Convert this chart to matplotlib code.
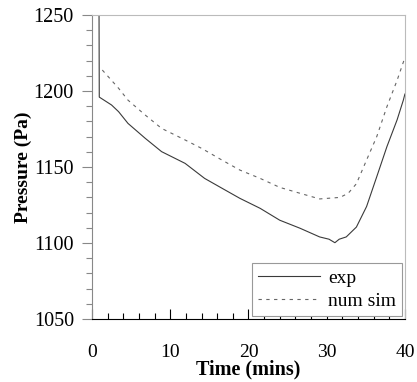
import numpy as np
import matplotlib
matplotlib.use("Agg")
from matplotlib import pyplot as plt
from matplotlib.ticker import MultipleLocator

# values
t_exp = [0.90, 0.93, 2.5, 3.4, 4.6, 6.8, 8.9, 11.9, 14.4, 16.8, 18.9, 21.5, 24.0,
         26.6, 29.1, 30.3, 31.05, 31.6, 32.5, 33.8, 35.1, 36.4, 37.7, 39.0, 39.8, 40.0]
p_exp = [1252, 1196, 1190.8, 1186.4, 1178.7, 1168.9, 1160.1, 1152.4, 1142.5, 1135.5, 1129.4,
         1122.8, 1115.0, 1109.7, 1104.0, 1102.5, 1100.2, 1102.5, 1104.0, 1110.5, 1124.0,
         1143.6, 1163.4, 1181.0, 1194.0, 1198.0]

t_sim = [1.32, 3.4, 4.6, 6.8, 8.9, 11.9, 14.0, 16.6, 18.9, 21.5, 24.0, 26.6, 29.1,
         31.7, 32.75, 33.8, 35.1, 36.4, 37.7, 39.0, 40.0]
p_sim = [1213.8, 1201.8, 1194.0, 1184.2, 1175.4, 1167.8, 1162.3, 1154.6, 1148.0, 1142.5,
         1136.6, 1132.7, 1129.0, 1130.0, 1132.7, 1139.0, 1154.6, 1170.0, 1189.7, 1207.0, 1222.0]

plt.rcParams['font.family'] = ['Liberation Serif', 'DejaVu Serif']

fig = plt.figure(figsize=(4.17, 3.82), dpi=100)
ax = fig.add_axes([0.2206, 0.1649, 0.971 - 0.2206, 0.9607 - 0.1649])

ax.plot(t_exp, p_exp, color='#3a3a3a', lw=0.8, label='exp')
ax.plot(t_sim, p_sim, color='#666666', lw=0.8, ls=(0, (3, 4)), label='num sim')

ax.set_xlim(0, 40)
ax.set_ylim(1050, 1250)
ax.xaxis.set_major_locator(MultipleLocator(10))
ax.xaxis.set_minor_locator(MultipleLocator(2))
ax.yaxis.set_major_locator(MultipleLocator(50))
ax.yaxis.set_minor_locator(MultipleLocator(10))

ax.tick_params(axis='x', which='major', direction='in', length=7, width=0.8, pad=18, labelsize=14)
ax.tick_params(axis='x', which='minor', direction='in', length=4, width=0.8)
ax.tick_params(axis='y', which='major', direction='out', length=7, width=0.8, pad=6,
               labelsize=14.5, color='#888888')
ax.tick_params(axis='y', which='minor', direction='out', length=4, width=0.8, color='#888888')

ax.spines['bottom'].set_color('black')
ax.spines['left'].set_color('#888888')
ax.spines['top'].set_color('#bbbbbb')
ax.spines['right'].set_color('#bbbbbb')
for s in ax.spines.values():
    s.set_linewidth(0.8)

ax.set_xlabel('Time (mins)', fontsize=14.5, fontweight='bold', labelpad=-1)
ax.set_ylabel('Pressure (Pa)', fontsize=14, fontweight='bold', labelpad=1)

leg = ax.legend(loc='lower right', fontsize=14, fancybox=False, framealpha=1,
                edgecolor='#999999', borderaxespad=0.15, handlelength=3.2,
                handletextpad=0.4, labelspacing=0.3, borderpad=0.3)
leg.get_frame().set_linewidth(0.8)

fig.savefig('out.png', dpi=100)
